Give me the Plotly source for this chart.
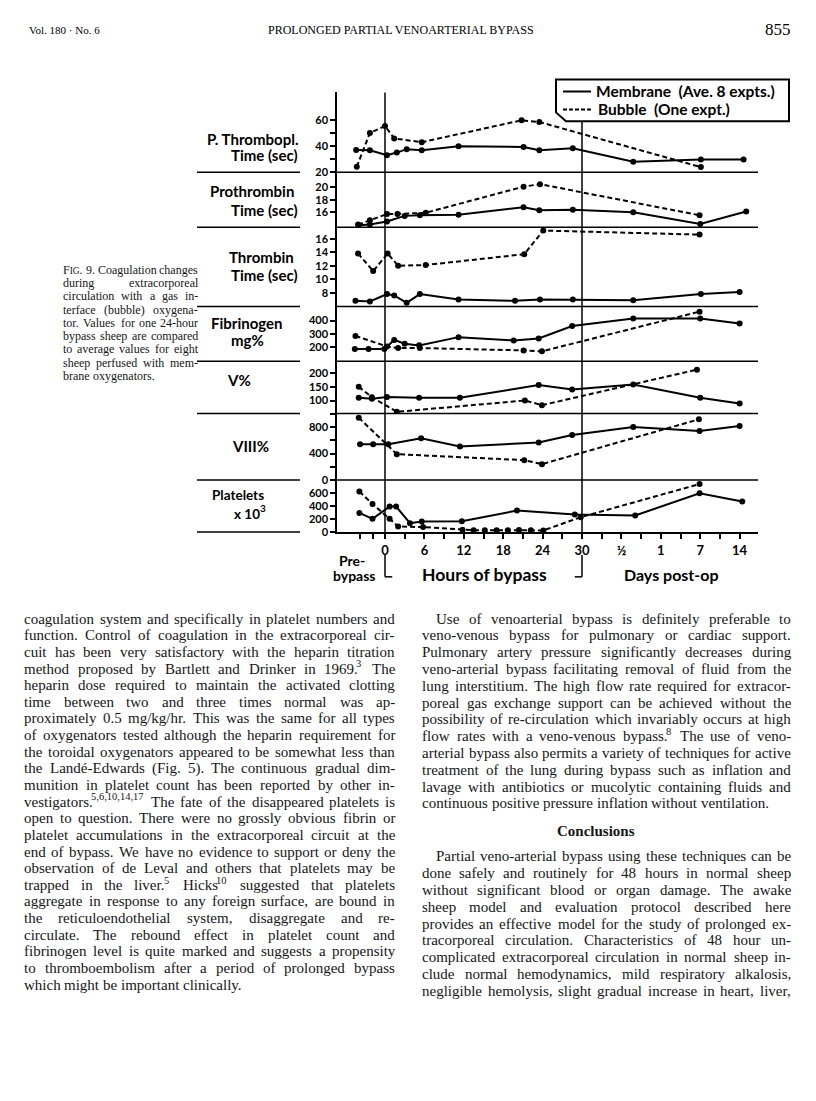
import plotly.graph_objects as go

W, H = 816, 1101

# ---- data ----
# x: hours of bypass; post-op days use the same spacing (1/2 d -> 36, 1 d -> 42, 7 d -> 48, 14 d -> 54),
# pre-bypass samples sit left of 0
x_tick_vals = [0, 6, 12, 18, 24, 30, 36, 42, 48, 54]
x_tick_text = ["0", "6", "12", "18", "24", "30", "½", "1", "7", "14"]
x_minor_ticks = [-3.8, -1.8, 3, 9, 15, 21, 27, 33, 39, 45, 51]

ptt_mem_x = [-4.4, -2.3, 0.3, 1.8, 3.3, 5.6, 11.2, 21.1, 23.5, 28.6, 37.8, 48.1, 54.6]
ptt_mem_y = [37, 36.8, 33, 35, 37.6, 36.8, 39.8, 39.3, 36.8, 38.3, 28, 29.8, 29.8]
ptt_bub_x = [-4.3, -2.3, 0.0, 1.4, 5.6, 20.8, 23.5, 48.1]
ptt_bub_y = [24.2, 49.9, 55.2, 45.7, 42.9, 59.5, 58.2, 24]

pt_mem_x = [-4.0, -2.3, 0.3, 3.0, 5.3, 11.2, 21.1, 23.5, 28.6, 37.8, 48.0, 55.0]
pt_mem_y = [13.9, 14.0, 14.5, 15.4, 15.5, 15.6, 16.8, 16.3, 16.4, 16.0, 14.1, 16.1]
pt_bub_x = [-4.1, -2.3, 0.3, 1.9, 6.2, 21.1, 23.6, 47.9]
pt_bub_y = [14.0, 14.7, 15.7, 15.7, 15.9, 20.1, 20.5, 15.5]

tt_mem_x = [-4.5, -2.3, 0.3, 1.4, 3.3, 5.3, 11.2, 19.8, 23.6, 28.6, 37.8, 48.1, 54.0]
tt_mem_y = [6.8, 6.7, 7.8, 7.6, 6.5, 7.8, 7.0, 6.8, 7.0, 7.0, 6.9, 7.8, 8.1]
tt_bub_x = [-4.1, -1.8, 0.4, 2.0, 6.2, 21.2, 24.1, 47.9]
tt_bub_y = [13.8, 11.2, 13.8, 12.0, 12.1, 13.7, 17.2, 16.6]

fib_mem_x = [-4.6, -2.5, -0.1, 1.4, 3.0, 5.2, 11.2, 19.6, 23.4, 28.5, 37.8, 48.0, 54.0]
fib_mem_y = [185, 185, 185, 254, 225, 213, 275, 250, 265, 359, 416, 416, 377]
fib_bub_x = [-4.5, 0.3, 2.0, 5.3, 21.1, 23.9, 47.9]
fib_bub_y = [284, 205, 193, 193, 175, 168, 467]

v_mem_x = [-4.0, -2.0, 0.3, 5.2, 11.4, 23.4, 28.5, 37.8, 48.0, 54.0]
v_mem_y = [110, 106, 113, 110, 110, 156, 140, 158, 110, 89]
v_bub_x = [-4.0, -2.0, 1.8, 21.3, 23.9, 47.5]
v_bub_y = [150, 112, 59, 100, 83, 212]

viii_mem_x = [-3.8, -1.8, 0.5, 5.5, 11.4, 23.4, 28.5, 37.8, 47.9, 54.0]
viii_mem_y = [540, 540, 540, 630, 505, 565, 680, 800, 740, 815]
viii_bub_x = [-4.0, 1.8, 21.2, 23.9, 47.8]
viii_bub_y = [940, 390, 300, 240, 915]

plt_mem_x = [-3.9, -1.9, 0.7, 1.7, 3.8, 5.6, 11.7, 20.1, 28.9, 38.1, 47.9, 54.4]
plt_mem_y = [297, 205, 395, 395, 138, 164, 169, 333, 272, 257, 600, 472]
plt_bub_x = [-3.9, -1.9, 0.7, 2.0, 5.8, 11.8, 13.5, 15.2, 17.0, 18.7, 20.4, 22.2, 24.1, 29.8, 47.9]
plt_bub_y = [626, 435, 205, 88, 77, 35, 30, 28, 28, 30, 32, 30, 26, 230, 743]

# y ticks per panel (labelled, unlabelled)
ptt_ticks, ptt_minor = [20, 40, 60], [30, 50]
pt_ticks, pt_minor = [16, 18, 20], []
tt_ticks, tt_minor = [8, 10, 12, 14, 16], []
fib_ticks, fib_minor = [200, 300, 400], []
v_ticks, v_minor = [100, 150, 200], []
viii_ticks, viii_minor = [0, 400, 800], [200, 600, 1000]
plt_ticks, plt_minor = [0, 200, 400, 600], []


def px(x):
    return x / W


def py(y):
    return 1 - y / H


# panel edges in page pixels, top to bottom
edges = [93, 173.3, 228.5, 308.3, 363.3, 415.7, 482.7, 535]
panels = [
    (ptt_mem_x, ptt_mem_y, ptt_bub_x, ptt_bub_y, ptt_ticks, ptt_minor, [20, 80.6]),
    (pt_mem_x, pt_mem_y, pt_bub_x, pt_bub_y, pt_ticks, pt_minor, [13.57, 22.4]),
    (tt_mem_x, tt_mem_y, tt_bub_x, tt_bub_y, tt_ticks, tt_minor, [5.94, 17.69]),
    (fib_mem_x, fib_mem_y, fib_bub_x, fib_bub_y, fib_ticks, fib_minor, [92.9, 504.9]),
    (v_mem_x, v_mem_y, v_bub_x, v_bub_y, v_ticks, v_minor, [53.1, 242.2]),
    (viii_mem_x, viii_mem_y, viii_bub_x, viii_bub_y, viii_ticks, viii_minor, [0, 1003.7]),
    (plt_mem_x, plt_mem_y, plt_bub_x, plt_bub_y, plt_ticks, plt_minor, [0, 804.6]),
]

X_LEFT, X_RIGHT = 337, 758
X0_PX, PX_PER_H = 385, 6.567
x_range = [(X_LEFT - X0_PX) / PX_PER_H, (X_RIGHT - X0_PX) / PX_PER_H]

SANS = "Lato"
fig = go.Figure()
layout_axes = {}
for i, (mx, my, bx, by, tv, minor, rng) in enumerate(panels):
    yname = "y" if i == 0 else f"y{i + 1}"
    fig.add_trace(go.Scatter(x=mx, y=my, xaxis="x", yaxis=yname, mode="lines+markers",
                             line=dict(color="black", width=2), marker=dict(color="black", size=6),
                             name="Membrane", showlegend=False))
    fig.add_trace(go.Scatter(x=bx, y=by, xaxis="x", yaxis=yname, mode="lines+markers",
                             line=dict(color="black", width=2, dash="5px,3px"),
                             marker=dict(color="black", size=6), name="Bubble", showlegend=False))
    layout_axes["yaxis" if i == 0 else f"yaxis{i + 1}"] = dict(
        domain=[py(edges[i + 1]), py(edges[i])], range=rng, anchor="x",
        tickvals=tv, ticktext=[str(v) for v in tv], ticks="outside", ticklen=5, tickwidth=1.5,
        tickcolor="black",
        minor=dict(tickvals=minor, ticks="outside", ticklen=5, tickwidth=1.5, tickcolor="black",
                   showgrid=False),
        showline=True, linecolor="black", linewidth=1.5, showgrid=False, zeroline=False,
        tickfont=dict(family=SANS, size=11, color="black", weight="bold"),
    )

shapes = []
# panel separators across the chart and under the row labels
for y in edges[1:-1]:
    shapes.append(dict(type="line", xref="paper", yref="paper", x0=px(X_LEFT), x1=px(X_RIGHT),
                       y0=py(y), y1=py(y), line=dict(color="black", width=1.5)))
for y in edges[1:]:
    shapes.append(dict(type="line", xref="paper", yref="paper", x0=px(197), x1=px(300),
                       y0=py(y), y1=py(y), line=dict(color="black", width=1.5)))
# start and end of bypass
shapes.append(dict(type="line", xref="x", yref="paper", x0=0, x1=0, y0=py(535), y1=py(93),
                   line=dict(color="black", width=1.5)))
shapes.append(dict(type="line", xref="x", yref="paper", x0=30, x1=30, y0=py(535), y1=py(122),
                   line=dict(color="black", width=1.5)))
for xv, dx in [(0, 1.1), (30, -1.1)]:
    shapes.append(dict(type="line", xref="x", yref="paper", x0=xv, x1=xv, y0=py(558), y1=py(580),
                       line=dict(color="black", width=1.5)))
    shapes.append(dict(type="line", xref="x", yref="paper", x0=xv, x1=xv + dx, y0=py(580), y1=py(580),
                       line=dict(color="black", width=1.5)))

# key box (bevelled lower-left corner) with its two line samples
box = [(556, 80), (789, 80), (789, 122), (566, 122), (556, 113)]
shapes.append(dict(type="path", xref="paper", yref="paper",
                   path="M " + " L ".join(f"{px(a):.5f},{py(b):.5f}" for a, b in box) + " Z",
                   line=dict(color="black", width=2), fillcolor="white", layer="above"))
shapes.append(dict(type="line", xref="paper", yref="paper", x0=px(563), x1=px(591), y0=py(92), y1=py(92),
                   line=dict(color="black", width=2)))
shapes.append(dict(type="line", xref="paper", yref="paper", x0=px(563), x1=px(591), y0=py(110), y1=py(110),
                   line=dict(color="black", width=2, dash="4px,2px")))

annotations = []


def note(text, x, y, size, xanchor="center", family=SANS, bold=True, color="black"):
    annotations.append(dict(text=text, x=px(x), y=py(y), xref="paper", yref="paper", showarrow=False,
                            xanchor=xanchor, yanchor="middle",
                            font=dict(family=family, size=size, color=color,
                                      weight="bold" if bold else "normal")))


note("Membrane\u00a0 (Ave. 8 expts.)", 594, 92, 15.5, "left")
note("Bubble\u00a0 (One expt.)", 596, 110, 15.5, "left")

# row labels
row_labels = [
    ("P. Thrombopl.", 300, 140, "right", 15), ("Time (sec)", 300, 156, "right", 15),
    ("Prothrombin", 296, 192, "right", 15), ("Time (sec)", 300, 211, "right", 15),
    ("Thrombin", 296, 258, "right", 15), ("Time (sec)", 300, 277, "right", 15),
    ("Fibrinogen", 246, 325, "center", 15), ("mg%", 248, 342, "center", 15),
    ("V%", 239, 382, "center", 15), ("VIII%", 250, 448, "center", 15),
    ("Platelets", 238, 498, "center", 13.5), ("x 10", 262, 517, "right", 13.5),
    ("3", 258, 511, "left", 10),
]
for t, x, y, a, s in row_labels:
    note(t, x, y, s, a)

note("Pre-", 352, 564, 14)
note("bypass", 354, 579, 14)
note("Hours of bypass", 484, 578, 17.5)
note("Days post-op", 671, 578, 16)

# page header
SERIF = "Liberation Serif"
note("Vol. 180 · No. 6", 27, 30, 11, "left", SERIF, False)
note("PROLONGED PARTIAL VENOARTERIAL BYPASS", 401, 30, 12, "center", SERIF, False)
note("855", 793, 30, 17, "right", SERIF, False)

# ---- justified running text ----
TIMES_W = {" ": 250, ".": 250, ",": 250, "-": 333, "(": 333, ")": 333, "/": 278, ":": 278,
           ";": 278, "é": 444, "%": 833}
TIMES_W.update({d: 500 for d in "0123456789"})
TIMES_W.update(zip("abcdefghijklmnopqrstuvwxyz",
                   [444, 500, 444, 500, 444, 333, 500, 500, 278, 278, 500, 278, 778,
                    500, 500, 500, 500, 333, 389, 278, 500, 500, 722, 500, 500, 444]))
TIMES_W.update(zip("ABCDEFGHIJKLMNOPQRSTUVWXYZ",
                   [722, 667, 667, 722, 611, 556, 722, 722, 333, 389, 722, 611, 889,
                    722, 722, 556, 722, 667, 556, 611, 722, 722, 944, 722, 722, 611]))


def text_width(s, size):
    return sum(TIMES_W.get(c, 500) for c in s) * size / 1000.0


def base_width(base, size):
    # "|...|" marks a small-capitals run
    return sum(text_width(seg, size * (0.78 if k % 2 else 1)) for k, seg in enumerate(base.split("|")))


def base_html(base, size):
    out = ""
    for k, seg in enumerate(base.split("|")):
        out += f"<span style='font-size:{size * 0.78:.1f}px'>{seg}</span>" if k % 2 else seg
    return out


def add_block(lines, x0, x1, y0, dy, size, indent=0, justify_last=False):
    for i, line in enumerate(lines):
        words = [w.partition("^")[::2] for w in line.split()]  # (base, superscript)
        left = x0 + (indent if i == 0 else 0)
        widths = [base_width(b, size) + text_width(s, size * 0.7) for b, s in words]
        if (i == len(lines) - 1 and not justify_last) or len(words) == 1:
            gap = TIMES_W[" "] * size / 1000
        else:
            gap = (x1 - left - sum(widths)) / (len(words) - 1)
        x = left
        y = y0 + i * dy
        for (b, s), ww in zip(words, widths):
            note(base_html(b, size), x, y, size, "left", SERIF, False, "#151515")
            if s:
                note(s, x + base_width(b, size) - 2, y - size * 0.32, size * 0.7, "left", SERIF, False,
                     "#151515")
            x += ww + gap


caption = [
    "F|IG|. 9. Coagulation changes",
    "during extracorporeal",
    "circulation with a gas in-",
    "terface (bubble) oxygena-",
    "tor. Values for one 24-hour",
    "bypass sheep are compared",
    "to average values for eight",
    "sheep perfused with mem-",
    "brane oxygenators.",
]
add_block(caption, 61, 196, 271, 13.4, 12)

left_col = [
    "coagulation system and specifically in platelet numbers and",
    "function. Control of coagulation in the extracorporeal cir-",
    "cuit has been very satisfactory with the heparin titration",
    "method proposed by Bartlett and Drinker in 1969.^3 The",
    "heparin dose required to maintain the activated clotting",
    "time between two and three times normal was ap-",
    "proximately 0.5 mg/kg/hr. This was the same for all types",
    "of oxygenators tested although the heparin requirement for",
    "the toroidal oxygenators appeared to be somewhat less than",
    "the Landé-Edwards (Fig. 5). The continuous gradual dim-",
    "munition in platelet count has been reported by other in-",
    "vestigators.^5,6,10,14,17 The fate of the disappeared platelets is",
    "open to question. There were no grossly obvious fibrin or",
    "platelet accumulations in the extracorporeal circuit at the",
    "end of bypass. We have no evidence to support or deny the",
    "observation of de Leval and others that platelets may be",
    "trapped in the liver.^5 Hicks^10 suggested that platelets",
    "aggregate in response to any foreign surface, are bound in",
    "the reticuloendothelial system, disaggregate and re-",
    "circulate. The rebound effect in platelet count and",
    "fibrinogen level is quite marked and suggests a propensity",
    "to thromboembolism after a period of prolonged bypass",
    "which might be important clinically.",
]
add_block(left_col, 22, 393, 622, 16.73, 15)

right_par1 = [
    "Use of venoarterial bypass is definitely preferable to",
    "veno-venous bypass for pulmonary or cardiac support.",
    "Pulmonary artery pressure significantly decreases during",
    "veno-arterial bypass facilitating removal of fluid from the",
    "lung interstitium. The high flow rate required for extracor-",
    "poreal gas exchange support can be achieved without the",
    "possibility of re-circulation which invariably occurs at high",
    "flow rates with a veno-venous bypass.^8 The use of veno-",
    "arterial bypass also permits a variety of techniques for active",
    "treatment of the lung during bypass such as inflation and",
    "lavage with antibiotics or mucolytic containing fluids and",
    "continuous positive pressure inflation without ventilation.",
]
add_block(right_par1, 420, 789, 622, 16.9, 15, indent=14)

note("Conclusions", 596, 836, 15, "center", SERIF, True, "#151515")

right_par2 = [
    "Partial veno-arterial bypass using these techniques can be",
    "done safely and routinely for 48 hours in normal sheep",
    "without significant blood or organ damage. The awake",
    "sheep model and evaluation protocol described here",
    "provides an effective model for the study of prolonged ex-",
    "tracorporeal circulation. Characteristics of 48 hour un-",
    "complicated extracorporeal circulation in normal sheep in-",
    "clude normal hemodynamics, mild respiratory alkalosis,",
    "negligible hemolysis, slight gradual increase in heart, liver,",
]
add_block(right_par2, 420, 789, 861, 16.9, 15, indent=14, justify_last=True)

fig.update_layout(
    width=W, height=H, autosize=False,
    margin=dict(l=0, r=0, t=0, b=0),
    paper_bgcolor="white", plot_bgcolor="white",
    showlegend=False,
    xaxis=dict(domain=[px(X_LEFT), px(X_RIGHT)], range=x_range, anchor="y7",
               tickvals=x_tick_vals, ticktext=x_tick_text, ticks="outside", ticklen=5, tickwidth=1.5,
               tickcolor="black",
               minor=dict(tickvals=x_minor_ticks, ticks="outside", ticklen=5, tickwidth=1.5,
                          tickcolor="black", showgrid=False),
               showline=True, linecolor="black", linewidth=2,
               showgrid=False, zeroline=False,
               tickfont=dict(family=SANS, size=13, color="black", weight="bold")),
    shapes=shapes,
    annotations=annotations,
    **layout_axes,
)

# the page's default 8px body margin would shift the whole sheet
fig.write_html("out.html", config={"displayModeBar": False},
               post_script="document.body.style.margin='0';")
